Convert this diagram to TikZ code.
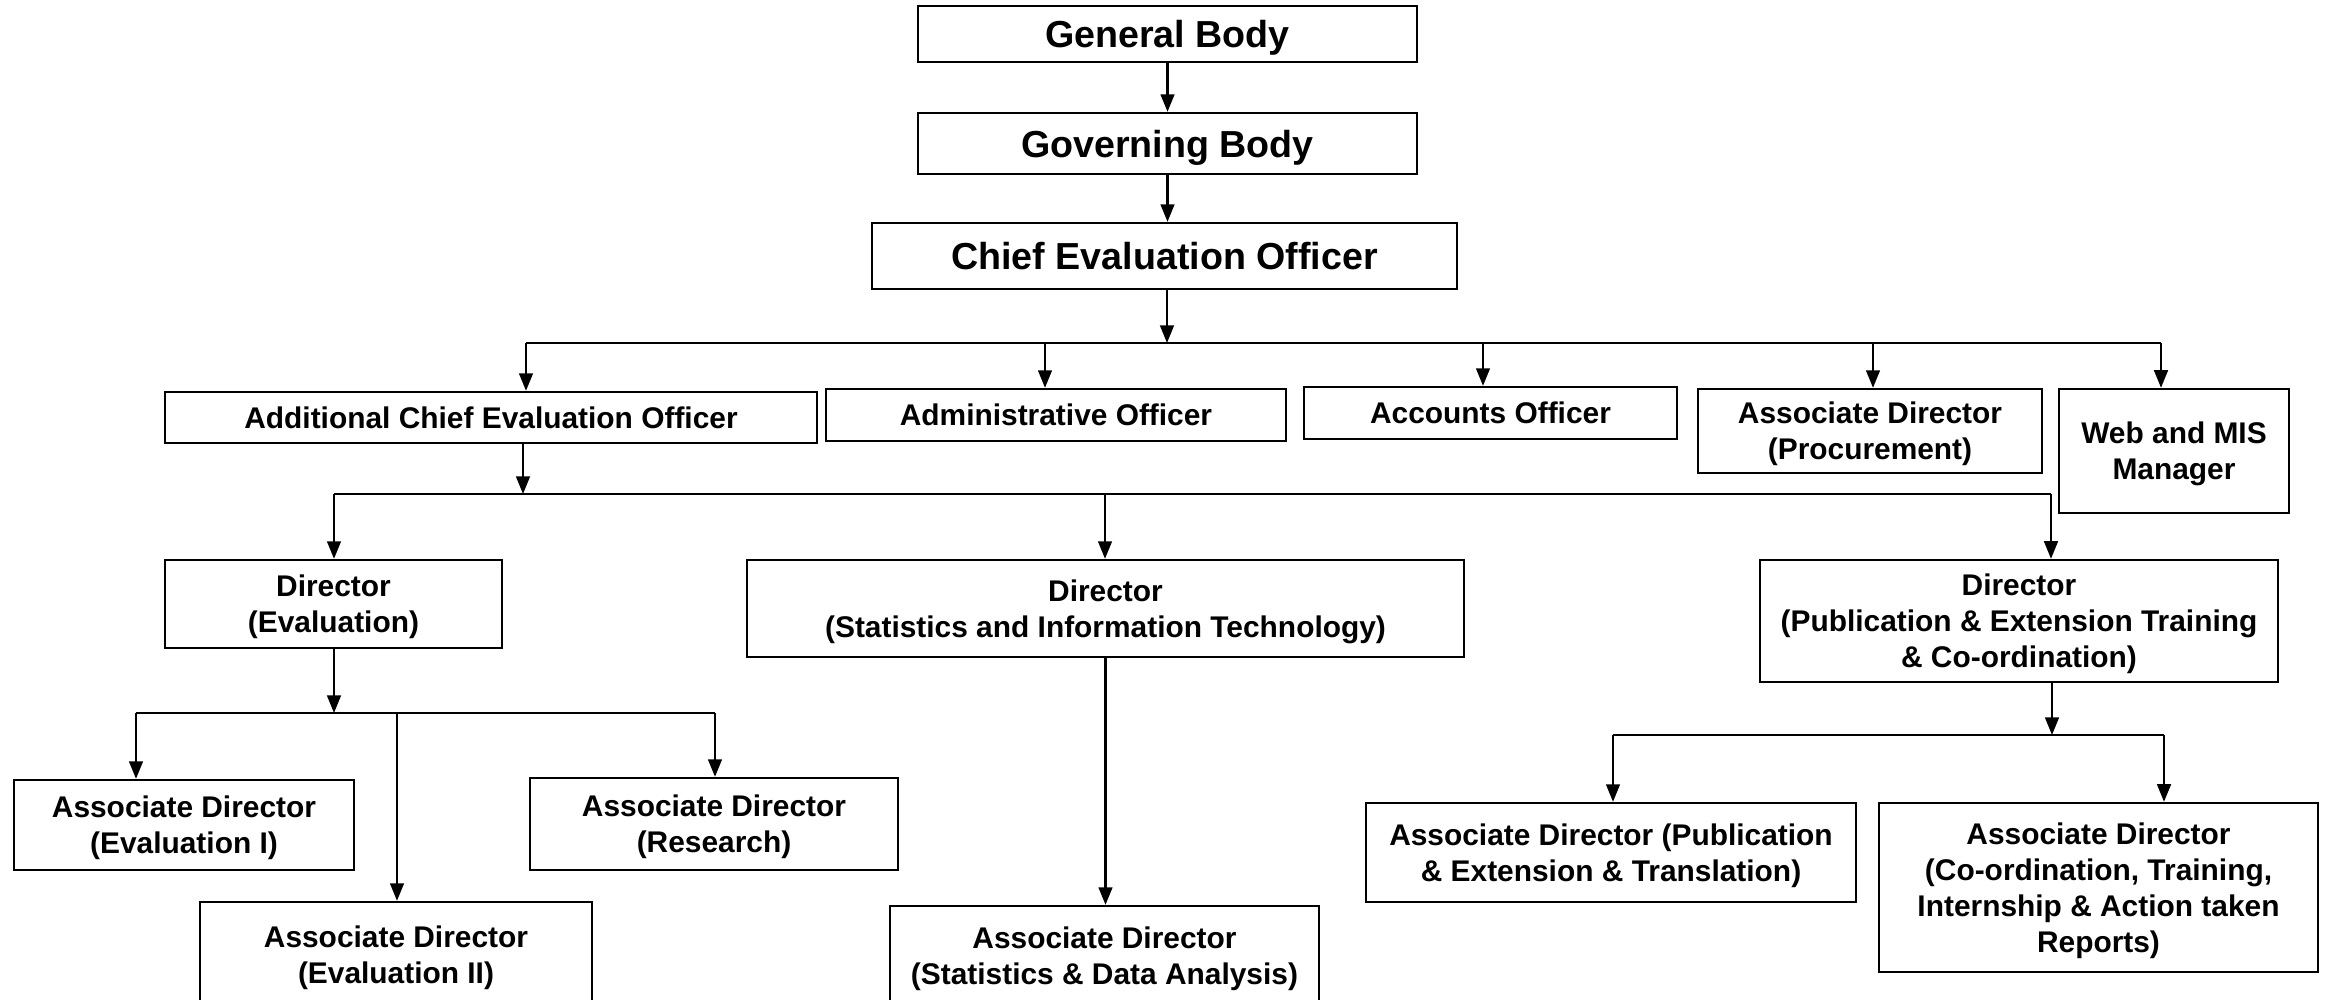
\documentclass[tikz,border=0pt]{standalone}
\usepackage{fontspec}
\setmainfont{Liberation Sans}
\usetikzlibrary{arrows.meta}

\begin{document}
\begin{tikzpicture}[x=0.01cm, y=-0.01cm, >={Triangle[length=5pt, width=3.9pt]}, line width=0.65pt,
    box/.style={draw, rectangle, inner sep=0pt, align=center, text depth=0pt, font=\bfseries\fontsize{8.5}{10.2}\selectfont},
    topbox/.style={box, font=\bfseries\fontsize{10.7}{12.8}\selectfont}]
      \useasboundingbox (0,0) rectangle (2329,1000);
      \clip (0,0) rectangle (2329,1000);

      % TOP
      \node[topbox, minimum width=4.99cm, minimum height=0.56cm] (genbody) at (1167.5,34) {General Body};
      \node[topbox, minimum width=4.99cm, minimum height=0.61cm] (govbody) at (1167.5,143.5) {Governing Body};
      \node[topbox, minimum width=5.85cm, minimum height=0.66cm] (ceo) at (1164.5,256) {Chief Evaluation Officer};

      % Officers under the CEO
      \node[box, minimum width=6.52cm, minimum height=0.51cm] (aceo) at (491,417.5) {Additional Chief Evaluation Officer};
      \node[box, minimum width=4.60cm, minimum height=0.52cm] (adminoff) at (1056,415) {Administrative Officer};
      \node[box, minimum width=3.73cm, minimum height=0.52cm] (accoff) at (1490.5,413) {Accounts Officer};
      \node[box, minimum width=3.44cm, minimum height=0.84cm] (adproc) at (1870,431) {Associate Director\\(Procurement)};
      \node[box, minimum width=2.30cm, minimum height=1.24cm] (webmis) at (2174,451) {Web and MIS\\Manager};

      % Directors
      \node[box, minimum width=3.37cm, minimum height=0.88cm] (direval) at (333.5,604) {Director\\(Evaluation)};
      \node[box, minimum width=7.17cm, minimum height=0.97cm] (dirstat) at (1105.5,608.5) {Director\\(Statistics and Information Technology)};
      \node[box, minimum width=5.18cm, minimum height=1.22cm] (dirpub) at (2019,621) {Director\\(Publication \& Extension Training\\\& Co-ordination)};

      % Associate Directors
      \node[box, minimum width=3.40cm, minimum height=0.90cm] (adeval1) at (184,825) {Associate Director\\(Evaluation I)};
      \node[box, minimum width=3.68cm, minimum height=0.92cm] (adres) at (714,824) {Associate Director\\(Research)};
      \node[box, minimum width=3.92cm, minimum height=1.06cm] (adeval2) at (396,955) {Associate Director\\(Evaluation II)};
      \node[box, minimum width=4.29cm, minimum height=1.00cm] (adstat) at (1104.5,956) {Associate Director\\(Statistics \& Data Analysis)};
      \node[box, minimum width=4.90cm, minimum height=0.99cm] (adpub) at (1611,852.5) {Associate Director (Publication\\\& Extension \& Translation)};
      \node[box, minimum width=4.39cm, minimum height=1.69cm] (adcoord) at (2098.5,887.5) {Associate Director\\(Co-ordination, Training,\\Internship \& Action taken\\Reports)};

      % General Body -> Governing Body -> CEO
      \draw[->] (genbody.south) -- (govbody.north);
      \draw[->] (govbody.south) -- (govbody.south |- ceo.north);

      % CEO bus
      \coordinate (busA) at (1167,343);
      \coordinate (dropaceo) at (526,343);
      \coordinate (dropadmin) at (1045,343);
      \coordinate (dropacc) at (1483,343);
      \coordinate (dropproc) at (1873,343);
      \coordinate (dropweb) at (2161,343);
      \draw (dropaceo) -- (dropweb);
      \draw[->] (ceo.south -| busA) -- (busA);
      \foreach \nd/\dp in {aceo/dropaceo, adminoff/dropadmin, accoff/dropacc, adproc/dropproc, webmis/dropweb}
        \draw[->] (\dp) -- (\dp |- \nd.north);

      % ACEO bus
      \coordinate (busB) at (523,494);
      \coordinate (dropeval) at (334,494);
      \coordinate (dropstat) at (1105,494);
      \coordinate (droppub) at (2051,494);
      \draw (dropeval) -- (droppub);
      \draw[->] (aceo.south -| busB) -- (busB);
      \foreach \nd/\dp in {direval/dropeval, dirstat/dropstat, dirpub/droppub}
        \draw[->] (\dp) -- (\dp |- \nd.north);

      % Director (Evaluation) bus
      \coordinate (busC) at (334,713);
      \coordinate (dropevalone) at (136,713);
      \coordinate (dropevaltwo) at (397,713);
      \coordinate (dropres) at (715,713);
      \draw (dropevalone) -- (dropres);
      \draw[->] (direval.south -| busC) -- (busC);
      \foreach \nd/\dp in {adeval1/dropevalone, adeval2/dropevaltwo, adres/dropres}
        \draw[->] (\dp) -- (\dp |- \nd.north);

      % Director (Statistics) -> Associate Director
      \draw[->] (dirstat.south) -- (dirstat.south |- adstat.north);

      % Director (Publication) bus
      \coordinate (busD) at (2052,735);
      \coordinate (droppubad) at (1613,735);
      \coordinate (dropcoord) at (2164,735);
      \draw (droppubad) -- (dropcoord);
      \draw[->] (dirpub.south -| busD) -- (busD);
      \foreach \nd/\dp in {adpub/droppubad, adcoord/dropcoord}
        \draw[->] (\dp) -- (\dp |- \nd.north);
\end{tikzpicture}
\end{document}
